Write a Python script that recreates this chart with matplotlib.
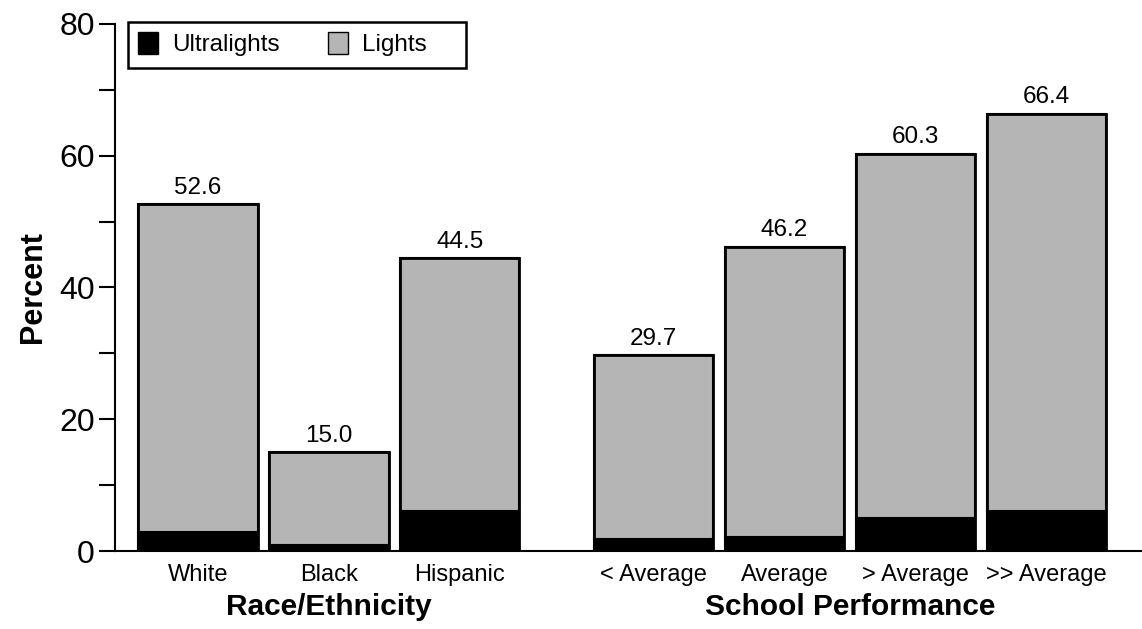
import matplotlib
matplotlib.use("Agg")
import matplotlib.pyplot as plt
import matplotlib.transforms as mtransforms
from matplotlib.patches import Patch, Rectangle

plt.rcParams['font.family'] = ['Liberation Sans', 'DejaVu Sans']

categories = ["White", "Black", "Hispanic", "< Average", "Average", "> Average", ">> Average"]
positions = [0, 1, 2, 3.48, 4.48, 5.48, 6.48]
totals = [52.6, 15.0, 44.5, 29.7, 46.2, 60.3, 66.4]
ultralights = [2.85, 0.9, 6.1, 1.8, 2.1, 5.05, 6.1]
total_labels = ["52.6", "15.0", "44.5", "29.7", "46.2", "60.3", "66.4"]
groups = ["Race/Ethnicity", "School Performance"]
group_centers = [1, 4.98]
y_ticks = [0, 20, 40, 60, 80]
y_minor = [10, 30, 50, 70]

lights = [t - u for t, u in zip(totals, ultralights)]

fig = plt.figure(figsize=(11.42, 6.29), dpi=100)
ax = fig.add_axes([0.1007, 0.124, 0.8993, 0.838])

gray = '#b5b5b5'
w = 0.91
ax.bar(positions, ultralights, width=w, color='black', edgecolor='black', linewidth=1.5)
ax.bar(positions, lights, bottom=ultralights, width=w, color=gray, edgecolor='black', linewidth=1.5)
ax.bar(positions, totals, width=w, fill=False, edgecolor='black', linewidth=2)

for x, t, lab in zip(positions, totals, total_labels):
    ax.text(x, t + 0.8, lab, ha='center', va='bottom', fontsize=17.5)

ax.set_xlim(-0.634, 7.21)
ax.set_ylim(0, 80)
ax.set_yticks(y_ticks)
ax.set_yticks(y_minor, minor=True)
ax.set_yticklabels([str(v) for v in y_ticks], fontsize=23)
ax.tick_params(axis='y', which='both', direction='out', length=11.5, width=1.5, pad=3)
ax.set_xticks(positions)
ax.set_xticklabels(categories, fontsize=17)
ax.tick_params(axis='x', length=0, pad=9)

for s in ['top', 'right']:
    ax.spines[s].set_visible(False)
ax.spines['left'].set_linewidth(1.5)
ax.spines['bottom'].set_linewidth(1.5)

ax.set_ylabel("Percent", fontsize=22, fontweight='bold', labelpad=8)

trans = mtransforms.blended_transform_factory(ax.transData, fig.transFigure)
for g, c in zip(groups, group_centers):
    ax.text(c, 0.035, g, transform=trans, ha='center', va='center', fontsize=21.5, fontweight='bold')

# legend frame
fig.patches.append(Rectangle((128 / 1142, (629 - 68) / 629), 338 / 1142, 46 / 629,
                             transform=fig.transFigure, fill=True, facecolor='white',
                             edgecolor='black', linewidth=1.8, zorder=5))
handles = [Patch(facecolor='black', edgecolor='black'), Patch(facecolor=gray, edgecolor='black')]
leg = fig.legend(handles, ["Ultralights", "Lights"], loc='center left',
                 bbox_to_anchor=(138 / 1142, (629 - 44) / 629),
                 ncol=2, fontsize=17.5, frameon=False, borderaxespad=0, borderpad=0,
                 handlelength=0.82, handleheight=1.03, columnspacing=2.0, handletextpad=0.58)
leg.set_zorder(6)

fig.savefig("out.png", dpi=100)
